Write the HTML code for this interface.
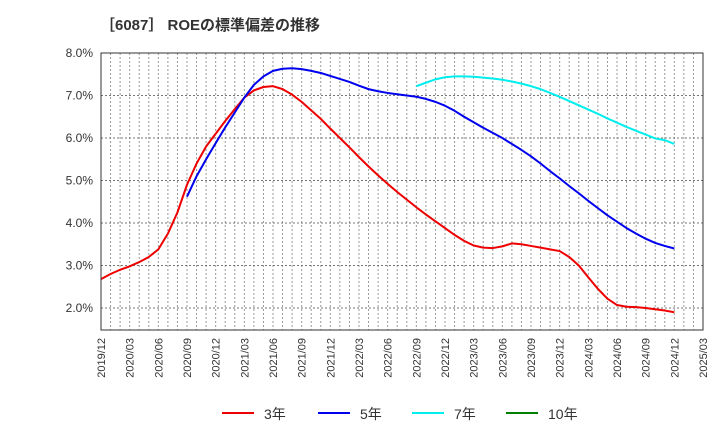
<!DOCTYPE html>
<html><head><meta charset="utf-8"><style>
body{margin:0;background:#fff;font-family:"Liberation Sans","Noto Sans CJK JP",sans-serif;}
</style></head><body>
<svg id="c" width="720" height="440" xmlns="http://www.w3.org/2000/svg">
<text x="100" y="30" font-size="15" font-weight="bold" fill="#333" font-family="Liberation Sans, Noto Sans CJK JP, sans-serif">［6087］ ROEの標準偏差の推移</text>
<g id="grid"></g><g id="series"></g><g id="axes"></g><g id="legend"></g>
</svg>
<script>
const xLabels=["2019/12","2020/03","2020/06","2020/09","2020/12","2021/03","2021/06","2021/09","2021/12","2022/03","2022/06","2022/09","2022/12","2023/03","2023/06","2023/09","2023/12","2024/03","2024/06","2024/09","2024/12","2025/03"];
const yTicks=[2,3,4,5,6,7,8];
const s3=[2.68,2.8,2.9,2.98,3.08,3.2,3.38,3.75,4.25,4.9,5.4,5.8,6.1,6.4,6.68,6.95,7.12,7.2,7.22,7.15,7.02,6.85,6.65,6.45,6.22,6.0,5.78,5.55,5.33,5.12,4.92,4.73,4.55,4.37,4.2,4.04,3.88,3.72,3.58,3.47,3.42,3.41,3.45,3.52,3.5,3.46,3.42,3.38,3.34,3.2,3.0,2.72,2.45,2.22,2.07,2.03,2.02,2.0,1.97,1.94,1.9];
const s5=[4.62,5.1,5.5,5.88,6.25,6.6,6.95,7.25,7.45,7.58,7.63,7.64,7.62,7.58,7.53,7.46,7.39,7.32,7.23,7.15,7.1,7.06,7.03,7.0,6.97,6.92,6.85,6.76,6.64,6.5,6.37,6.24,6.12,6.0,5.86,5.72,5.57,5.4,5.22,5.05,4.87,4.7,4.52,4.35,4.18,4.03,3.88,3.75,3.63,3.53,3.46,3.4];
const s7=[7.22,7.3,7.38,7.43,7.45,7.45,7.44,7.42,7.4,7.37,7.33,7.28,7.22,7.15,7.06,6.97,6.87,6.77,6.67,6.57,6.46,6.36,6.26,6.17,6.08,5.99,5.95,5.86];
const s10=[];
const start5=9,start7=33,start10=0;
const L=101,R=703,T=53,B=330,NM=63;
const X=m=>L+(R-L)*m/NM;
const Y=v=>T+(8-v)*42.5;
const NS="http://www.w3.org/2000/svg";
function mk(t,a,p){const e=document.createElementNS(NS,t);for(const k in a)e.setAttribute(k,a[k]);p.appendChild(e);return e;}
const g=document.getElementById('grid'),ax=document.getElementById('axes'),se=document.getElementById('series'),lg=document.getElementById('legend');
for(let m=1;m<NM;m++){const l=mk('line',{x1:X(m),x2:X(m),y1:T,y2:B,stroke:'#999','stroke-dasharray':'2,2','stroke-width':1},g);

}
yTicks.forEach(v=>{const l=mk('line',{x1:L,x2:R,y1:Y(v),y2:Y(v),stroke:'#777','stroke-dasharray':'2,2'},g);


const t=mk('text',{x:L-8,y:Y(v)+4,'text-anchor':'end','font-size':12,fill:'#333'},ax);t.textContent=v.toFixed(1)+'%';

});
const fr=mk('rect',{x:L,y:T,width:R-L,height:B-T,fill:'none',stroke:'#333','stroke-width':1},ax);


xLabels.forEach((s,i)=>{const x=X(i*3);const t=mk('text',{x:x+4,y:B+8,'text-anchor':'end','font-size':11,fill:'#333',transform:`rotate(-90 ${x+4} ${B+8})`},ax);t.textContent=s;

});
function line(arr,st,col,name){if(!arr.length)return;const p=mk('polyline',{points:arr.map((v,i)=>X(st+i)+','+Y(v)).join(' '),fill:'none',stroke:col,'stroke-width':2,'stroke-linejoin':'round'},se);

}
line(s3,0,'#ee0000','series-3y');line(s5,start5,'#0000ee','series-5y');line(s7,start7,'#00eeee','series-7y');line(s10,start10,'#008000','series-10y');
[['3年','#ee0000',222],['5年','#0000ee',318],['7年','#00eeee',412],['10年','#008000',506]].forEach(([t,c,x])=>{
const l=mk('line',{x1:x,x2:x+32,y1:413,y2:413,stroke:c,'stroke-width':2},lg);


const tx=mk('text',{x:x+42,y:419,'font-size':14,fill:'#333'},lg);tx.textContent=t;

});
</script>
</body></html>
